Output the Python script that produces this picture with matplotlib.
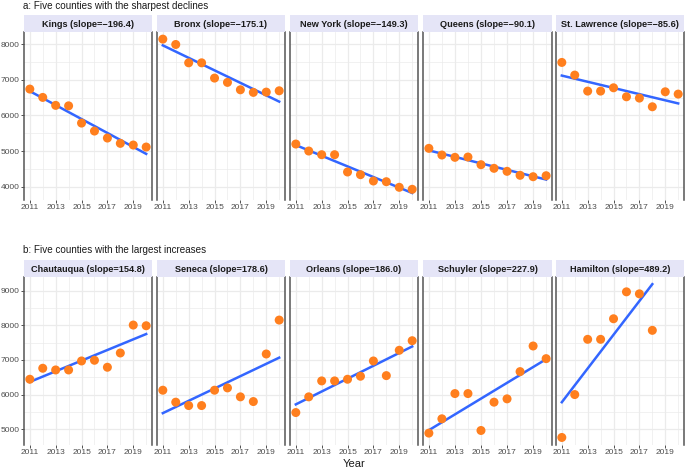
import numpy as np
import matplotlib
matplotlib.use("Agg")
from matplotlib import pyplot as plt
from matplotlib.ticker import MultipleLocator

plt.rcParams["font.family"] = ["Liberation Sans", "DejaVu Sans"]

years = np.arange(2011, 2021)

# a: sharpest declines
decl_names = ["Kings", "Bronx", "New York", "Queens", "St. Lawrence"]
decl_slopes = ["\u2212196.4", "\u2212175.1", "\u2212149.3", "\u221290.1", "\u221285.6"]
kings = [6740, 6506, 6283, 6270, 5787, 5563, 5367, 5218, 5171, 5115]
bronx = [8140, 7990, 7476, 7476, 7048, 6927, 6720, 6647, 6655, 6692]
new_york = [5199, 5003, 4900, 4900, 4415, 4340, 4163, 4143, 3986, 3930]
queens = [5078, 4891, 4826, 4835, 4620, 4518, 4434, 4322, 4283, 4311]
st_lawrence = [7487, 7132, 6683, 6683, 6776, 6524, 6487, 6244, 6664, 6599]
decl_vals = [kings, bronx, new_york, queens, st_lawrence]

# b: largest increases
incr_names = ["Chautauqua", "Seneca", "Orleans", "Schuyler", "Hamilton"]
incr_slopes = ["154.8", "178.6", "186.0", "227.9", "489.2"]
chautauqua = [6442, 6760, 6711, 6711, 6971, 6991, 6789, 7202, 8010, 7990]
seneca = [6125, 5779, 5681, 5681, 6125, 6192, 5933, 5797, 7173, 8154]
orleans = [5479, 5933, 6394, 6394, 6442, 6529, 6971, 6547, 7280, 7557]
schuyler = [4884, 5298, 6028, 6028, 4960, 5779, 5875, 6663, 7404, 7038]
hamilton = [4758, 5999, 7597, 7597, 8192, 8971, 8913, 7857]  # no 2019/2020
incr_vals = [chautauqua, seneca, orleans, schuyler, hamilton]

W, H = 685, 469
fig = plt.figure(figsize=(W / 100, H / 100), dpi=100)

panel_x = [(24, 152), (157, 285), (290, 418), (423, 552), (556, 684)]
strip_col = "#E5E5F7"
pt_col = "#FF7F1E"
line_col = "#3366FF"
grid_col = "#EBEBEB"
txt_col = "#4D4D4D"


def fx(px):
    return px / W


def fy(py):
    return 1 - py / H


def draw_row(names, slopes, vals, top, bottom, strip_top, ylim, ymajor):
    axes = []
    for i, (name, slope, v) in enumerate(zip(names, slopes, vals)):
        x0, x1 = panel_x[i]
        ax = fig.add_axes([fx(x0), fy(bottom), fx(x1 - x0), (bottom - top) / H])
        yrs = years[:len(v)]
        v = np.array(v, dtype=float)
        # linear fit for the trend line
        k, b = np.polyfit(yrs, v, 1)
        ax.plot(yrs, k * yrs + b, color=line_col, lw=1.8, zorder=3)
        ax.scatter(yrs, v, s=42, color=pt_col, edgecolor="none", zorder=4)
        ax.set_xlim(2011 - 0.45, 2020 + 0.45)
        ax.set_ylim(*ylim)
        ax.xaxis.set_major_locator(MultipleLocator(2))
        ax.xaxis.set_minor_locator(MultipleLocator(1))
        ax.yaxis.set_major_locator(MultipleLocator(ymajor))
        ax.yaxis.set_minor_locator(MultipleLocator(ymajor / 2))
        ax.grid(True, which="major", color=grid_col, lw=0.9)
        ax.grid(True, which="minor", color=grid_col, lw=0.5)
        ax.set_axisbelow(True)
        for s in ["top", "bottom"]:
            ax.spines[s].set_visible(False)
        for s in ["left", "right"]:
            ax.spines[s].set_color("#555555")
            ax.spines[s].set_linewidth(1.1)
        ax.tick_params(which="minor", length=0)
        ax.tick_params(which="major", length=2.0, color="#333333", labelsize=6,
                       labelcolor=txt_col, pad=1.0, width=0.6)
        ax.tick_params(axis="y", right=False)
        ax.set_xticks([2011, 2013, 2015, 2017, 2019])
        if i > 0:
            ax.tick_params(axis="y", left=False, labelleft=False)
        # strip
        sax = fig.add_axes([fx(x0), fy(top), fx(x1 - x0), (top - strip_top) / H])
        sax.set_facecolor(strip_col)
        sax.set_xticks([])
        sax.set_yticks([])
        for s in sax.spines.values():
            s.set_visible(False)
        sax.text(0.5, 0.45, f"{name} (slope={slope})", ha="center", va="center",
                 fontsize=6.6, fontweight="bold", color="#1A1A1A",
                 transform=sax.transAxes)
        axes.append(ax)
    return axes


draw_row(decl_names, decl_slopes, decl_vals, 32, 200, 15, (3630, 8340), 1000)
draw_row(incr_names, incr_slopes, incr_vals, 277, 445, 260, (4540, 9400), 1000)

fig.text(fx(23), fy(6), "a: Five counties with the sharpest declines",
         fontsize=7.1, va="center", ha="left", color="#1A1A1A")
fig.text(fx(23), fy(250), "b: Five counties with the largest increases",
         fontsize=7.1, va="center", ha="left", color="#1A1A1A")
fig.text(fx(354), fy(464), "Year", fontsize=8, va="center", ha="center",
         color="#1A1A1A")

fig.savefig("out.png", dpi=100)
